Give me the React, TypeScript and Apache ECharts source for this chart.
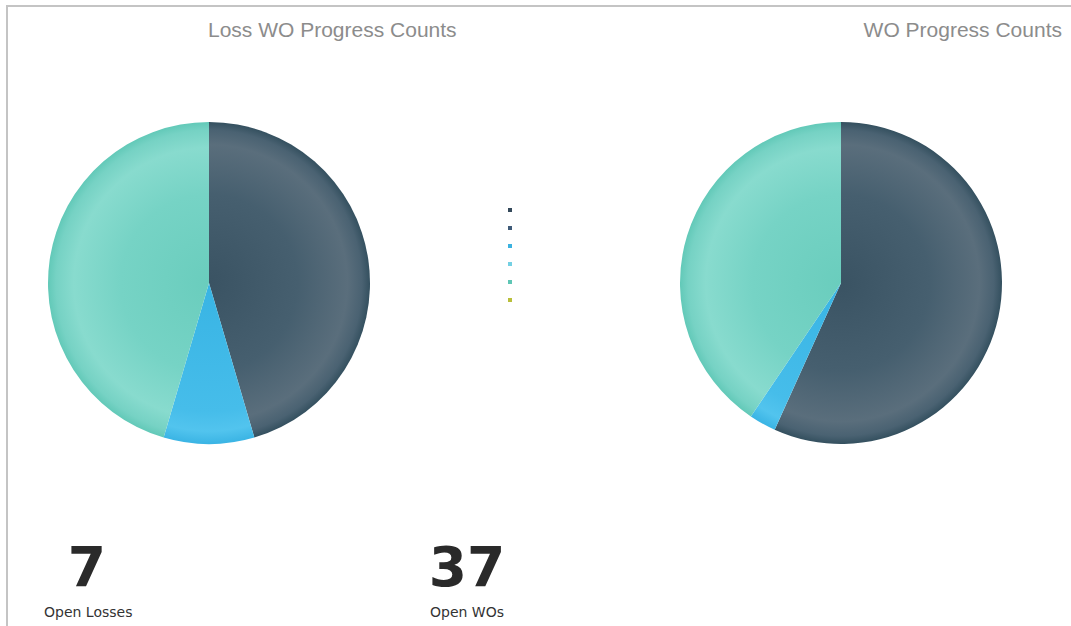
import React, { useEffect, useRef } from "react";
import * as echarts from "echarts";

const categories = ["Not Started", "Scheduled", "In Progress", "On Hold", "Completed", "Closed"];
const legendColors = ["#34495a", "#3e5a78", "#3bb2e0", "#74d0e3", "#5ec6b5", "#b9bf3a"];
const lossValues = [5, 0, 1, 0, 5, 0];
const woValues = [21, 0, 1, 0, 15, 0];
const titles = ["Loss WO Progress Counts", "WO Progress Counts"];
const kpiValues = ["7", "37"];
const kpiLabels = ["Open Losses", "Open WOs"];

const R = 161;
const CY = 283;
const CX = [209, 841];

const gradStops: Record<number, [number, string][]> = {
  0: [[0, "#3a5363"], [0.55, "#465f6f"], [0.86, "#5a6e7c"], [0.95, "#4a6272"], [1, "#34505f"]],
  2: [[0, "#38b4e4"], [0.8, "#46bdea"], [0.92, "#52c4ee"], [1, "#3ab4e4"]],
  4: [[0, "#6acdbd"], [0.55, "#76d3c5"], [0.84, "#88dbce"], [0.95, "#76d2c4"], [1, "#62c9b8"]],
};

function sliceColor(i: number, cx: number) {
  const stops = gradStops[i];
  if (!stops) return legendColors[i];
  return {
    type: "radial",
    x: cx,
    y: CY,
    r: R,
    global: true,
    colorStops: stops.map(([offset, color]) => ({ offset, color })),
  };
}

function makeSeries(values: number[], cx: number) {
  return {
    type: "pie",
    center: [cx, CY],
    radius: R,
    startAngle: 90,
    clockwise: true,
    label: { show: false },
    labelLine: { show: false },
    emphasis: { disabled: true },
    silent: true,
    itemStyle: { borderWidth: 0 },
    data: categories.map((name, i) => ({
      name,
      value: values[i],
      itemStyle: { color: sliceColor(i, cx) },
    })),
  };
}

export default function App() {
  const ref = useRef<HTMLDivElement>(null);
  useEffect(() => {
    if (!ref.current) return;
    const chart = echarts.init(ref.current, null, { renderer: "svg" });
    chart.setOption({
      animation: false,
      backgroundColor: "#ffffff",
      legend: {
        orient: "vertical",
        left: 503,
        top: 203,
        icon: "rect",
        itemWidth: 4,
        itemHeight: 4,
        itemGap: 14,
        selectedMode: false,
        formatter: () => "",
        textStyle: { fontSize: 4 },
        data: categories.map((name, i) => ({ name, itemStyle: { color: legendColors[i] } })),
      },
      series: [makeSeries(lossValues, CX[0]), makeSeries(woValues, CX[1])],
      graphic: [
        {
          type: "rect",
          shape: { x: 7, y: 6, width: 1200, height: 800 },
          style: { fill: "none", stroke: "#c4c4c4", lineWidth: 2 },
          silent: true,
        },
        {
          type: "text",
          x: 208,
          y: 29,
          style: {
            text: titles[0],
            fill: "#8c8c8c",
            font: "21px 'Liberation Sans', Arial, sans-serif",
            align: "left",
            verticalAlign: "middle",
          },
        },
        {
          type: "text",
          x: 1062,
          y: 29,
          style: {
            text: titles[1],
            fill: "#8c8c8c",
            font: "21px 'Liberation Sans', Arial, sans-serif",
            align: "right",
            verticalAlign: "middle",
          },
        },
        {
          type: "text",
          x: 87,
          y: 567,
          style: {
            text: kpiValues[0],
            fill: "#2a2a2a",
            font: "bold 55px 'DejaVu Sans', Verdana, sans-serif",
            align: "center",
            verticalAlign: "middle",
          },
        },
        {
          type: "text",
          x: 467,
          y: 567,
          style: {
            text: kpiValues[1],
            fill: "#2a2a2a",
            font: "bold 55px 'DejaVu Sans', Verdana, sans-serif",
            align: "center",
            verticalAlign: "middle",
          },
        },
        {
          type: "text",
          x: 44,
          y: 612,
          style: {
            text: kpiLabels[0],
            fill: "#333333",
            font: "14px 'DejaVu Sans', Verdana, sans-serif",
            align: "left",
            verticalAlign: "middle",
          },
        },
        {
          type: "text",
          x: 430,
          y: 612,
          style: {
            text: kpiLabels[1],
            fill: "#333333",
            font: "14px 'DejaVu Sans', Verdana, sans-serif",
            align: "left",
            verticalAlign: "middle",
          },
        },
      ],
    });
    return () => chart.dispose();
  }, []);
  return (
    <div
      ref={ref}
      style={{ position: "fixed", left: 0, top: 0, width: 1071, height: 626 }}
    />
  );
}
